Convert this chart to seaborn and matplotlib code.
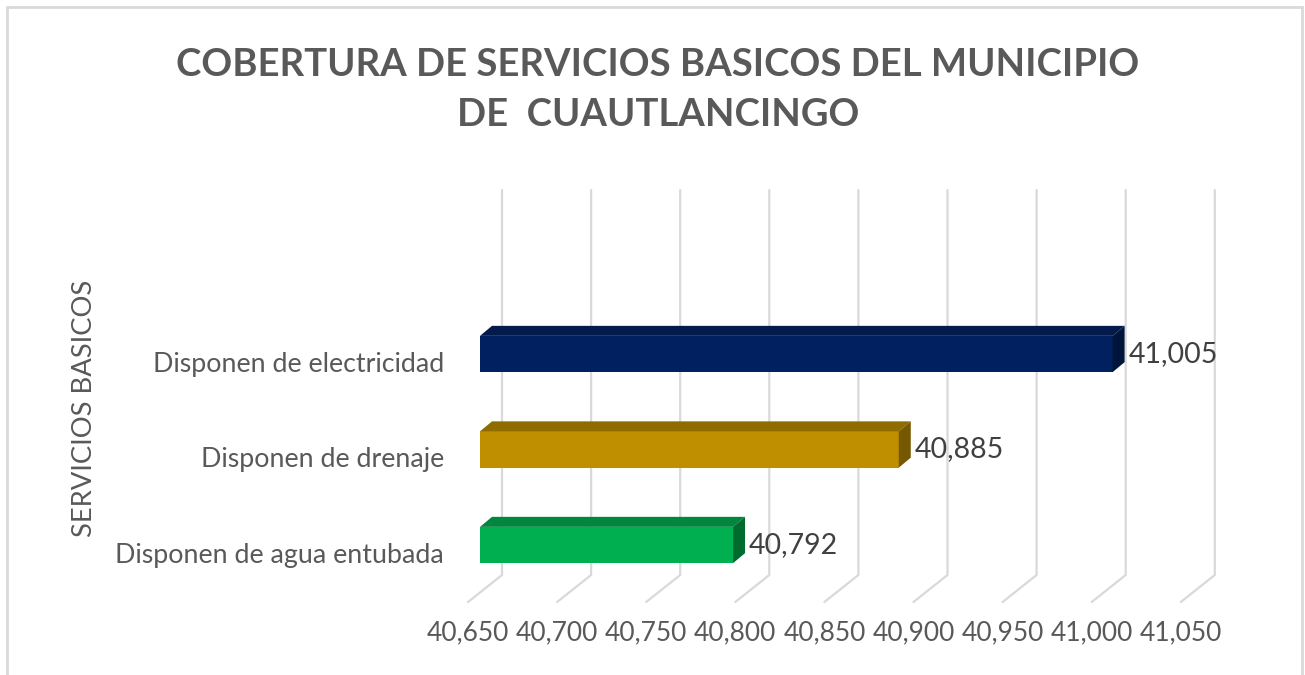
import matplotlib
matplotlib.use("Agg")
import matplotlib.pyplot as plt
import matplotlib.transforms as mtransforms
import seaborn as sns
from matplotlib.patches import Polygon, Rectangle

# Datos
categorias = ["Disponen de electricidad", "Disponen de drenaje", "Disponen de agua entubada"]
valores = [41005, 40885, 40792]
colores_frente = ["#002060", "#BF8F00", "#00B050"]
colores_arriba = ["#031A4C", "#8F6C00", "#00863D"]
colores_lado = ["#01153B", "#765800", "#006B2F"]
ticks_x = [40650, 40700, 40750, 40800, 40850, 40900, 40950, 41000, 41050]
titulo = "COBERTURA DE SERVICIOS BASICOS DEL MUNICIPIO\nDE  CUAUTLANCINGO"
etiqueta_y = "SERVICIOS BASICOS"

sns.set_style("white")
plt.rcParams["font.family"] = ["Lato", "DejaVu Sans"]

W, H = 1305, 675
fig = plt.figure(figsize=(W / 100, H / 100), dpi=100)

# axes box in pixels (front plane of the bars)
left_px, right_px = 480, 1192.8
top_px, bottom_px = 190, 602
ax = fig.add_axes([left_px / W, (H - bottom_px) / H,
                   (right_px - left_px) / W, (bottom_px - top_px) / H])

sns.barplot(x=valores, y=categorias, hue=categorias, palette=colores_frente,
            orient="h", width=0.38, saturation=1, linewidth=0, legend=False,
            ax=ax, zorder=3)

xmin, xmax = ticks_x[0], ticks_x[-1]
ax.set_xlim(xmin, xmax)
# category 0 centre sits at pixel 354, spacing 95.5 px
sp = 95.5
ax.set_ylim((bottom_px - 354) / sp, (top_px - 354) / sp)

ppx = (right_px - left_px) / (xmax - xmin)   # pixels per unit in x

def dxu(px):
    return px / ppx

def dyu(px):
    return px / sp

# 3D-ish grid: back wall lines + floor slants
grid_c = "#D9D9D9"
y_top = (top_px - 354) / sp
y_back_floor = (575 - 354) / sp
y_front_floor = (bottom_px - 354) / sp
for v in ticks_x:
    xb = v + dxu(22)
    xf = v - dxu(12)
    ax.plot([xb, xb, xf], [y_top, y_back_floor, y_front_floor], color=grid_c,
            lw=1.6, zorder=1, clip_on=False, solid_joinstyle="miter")

# top and side faces of each bar
ddx, ddy = dxu(12), dyu(10)
for i, p in enumerate(ax.patches[:len(valores)]):
    x0 = max(p.get_x(), xmin)
    x1 = p.get_x() + p.get_width()
    yt = p.get_y()
    yb = p.get_y() + p.get_height()
    if yt > yb:
        yt, yb = yb, yt
    top = Polygon([(x0, yt), (x1, yt), (x1 + ddx, yt - ddy), (x0 + ddx, yt - ddy)],
                  closed=True, facecolor=colores_arriba[i], edgecolor="none", zorder=3)
    side = Polygon([(x1, yt), (x1 + ddx, yt - ddy), (x1 + ddx, yb - ddy), (x1, yb)],
                   closed=True, facecolor=colores_lado[i], edgecolor="none", zorder=3)
    ax.add_patch(top)
    ax.add_patch(side)
    ax.text(x1 + ddx + dxu(4), (yt + yb) / 2, f"{valores[i]:,}", ha="left",
            va="center", fontsize=20.5, color="#404040", zorder=4)

# axes cosmetics
for s in ax.spines.values():
    s.set_visible(False)
ax.grid(False)
ax.set_xticks(ticks_x)
ax.set_xticklabels([f"{v:,}" for v in ticks_x])
ax.tick_params(axis="x", length=0, pad=13, labelsize=19, labelcolor="#595959")
ax.tick_params(axis="y", length=0, pad=26, labelsize=19.3, labelcolor="#595959")
for lab in ax.get_xticklabels():
    lab.set_transform(lab.get_transform() +
                      mtransforms.ScaledTranslation(-12 / 100, 0, fig.dpi_scale_trans))
for lab in ax.get_yticklabels():
    lab.set_transform(lab.get_transform() +
                      mtransforms.ScaledTranslation(0, -8 / 100, fig.dpi_scale_trans))
ax.set_xlabel("")
ax.set_ylabel("")

fig.text(85 / W, 1 - 408 / H, etiqueta_y, rotation=90, ha="center", va="center",
         fontsize=19.7, color="#595959")

fig.text(658 / W, 1 - 90 / H, titulo, ha="center", va="center", fontsize=27.5,
         fontweight="bold", color="#595959", linespacing=1.6)

# chart border
fig.patches.append(Rectangle((7 / W, -0.05), (1302 - 7) / W, 1 - 7 / H + 0.05,
                             transform=fig.transFigure, fill=False,
                             edgecolor="#D9D9D9", lw=2))

fig.savefig("out.png", dpi=100)
